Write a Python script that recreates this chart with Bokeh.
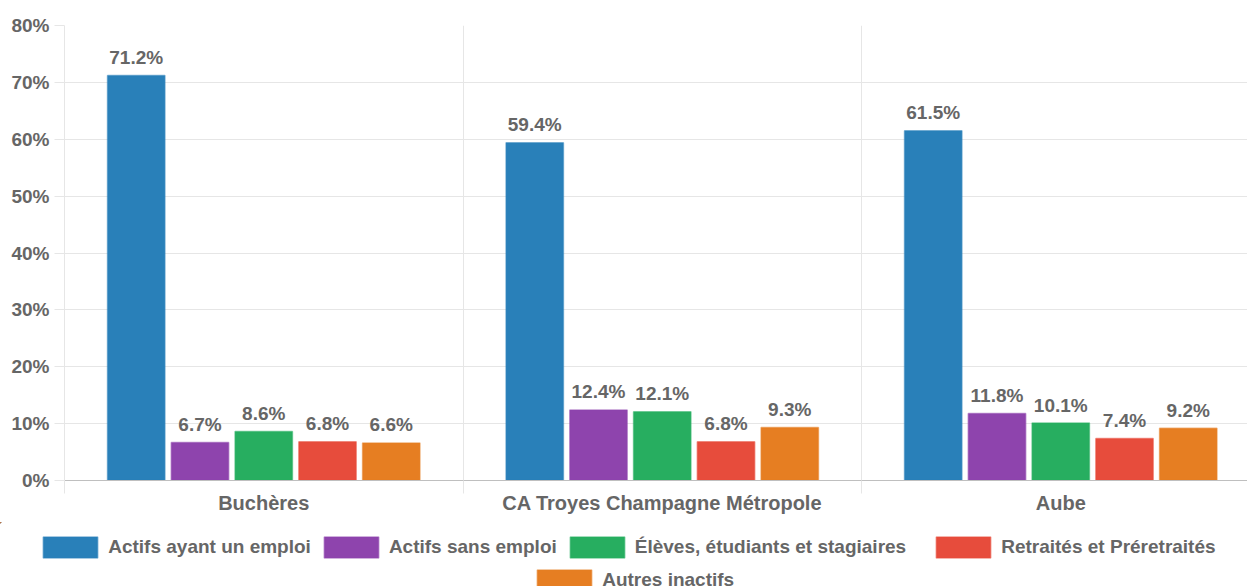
import numpy as np
from bokeh.plotting import figure
from bokeh.layouts import column
from bokeh.models import (Range1d, FixedTicker, CustomJSTickFormatter, PrintfTickFormatter,
                          Legend, LegendItem, ColumnDataSource)
from bokeh.core.properties import value
from bokeh.embed import file_html
from bokeh.resources import INLINE

# ---- data ----
categories = ["Buchères", "CA Troyes Champagne Métropole", "Aube"]
series_names = ["Actifs ayant un emploi", "Actifs sans emploi",
                "Élèves, étudiants et stagiaires", "Retraités et Préretraités",
                "Autres inactifs"]
actifs_emploi = [71.2, 59.4, 61.5]
actifs_sans_emploi = [6.7, 12.4, 11.8]
eleves_etudiants = [8.6, 12.1, 10.1]
retraites = [6.8, 6.8, 7.4]
autres_inactifs = [6.6, 9.3, 9.2]
y_ticks = [0, 10, 20, 30, 40, 50, 60, 70, 80]

series_values = [actifs_emploi, actifs_sans_emploi, eleves_etudiants, retraites, autres_inactifs]
colors = ["#2980b9", "#8e44ad", "#27ae60", "#e74c3c", "#e67e22"]

FONT = "Liberation Sans"
TXT = "#666666"
GRID = "#e6e6e6"

n_cat = len(categories)
slot = 0.8 / len(series_names)
bar_w = slot * 0.9

W = 1247
H1 = 522
p = figure(width=W, height=H1,
           x_range=Range1d(0, (W - 64) / 398.5), y_range=Range1d(0, 80),
           output_backend="svg", toolbar_location=None,
           min_border_left=64, min_border_right=0, min_border_top=25,
           min_border_bottom=H1 - 480)
p.outline_line_color = None
p.frame_align = False

sources = []
for i, (name, vals, col) in enumerate(zip(series_names, series_values, colors)):
    xs = np.arange(n_cat) + 0.5 + (i - 2) * slot
    src = ColumnDataSource(dict(x=xs, top=vals,
                                lbl=[f"{v:.1f}%" for v in vals]))
    sources.append(src)
    p.vbar(x="x", top="top", width=bar_w, bottom=0, source=src,
           fill_color=col, line_color=col, line_alpha=0.55, line_width=1.5)
    p.text(x="x", y="top", text="lbl", source=src, text_align="center",
           text_baseline="alphabetic", y_offset=-18,
           text_font=value(FONT), text_font_style="bold",
           text_font_size="19px", text_color=TXT)

# y axis
p.yaxis.ticker = FixedTicker(ticks=y_ticks)
p.yaxis.formatter = PrintfTickFormatter(format="%d%%")
p.yaxis.axis_line_color = GRID
p.yaxis.major_tick_line_color = GRID
p.yaxis.major_tick_out = 10
p.yaxis.major_tick_in = 0
p.yaxis.minor_tick_line_color = None
p.yaxis.minor_tick_out = 0
p.yaxis.major_label_standoff = 5
p.yaxis.major_label_text_font = FONT
p.yaxis.major_label_text_font_style = "bold"
p.yaxis.major_label_text_font_size = "19px"
p.yaxis.major_label_text_color = TXT

# x axis
p.xaxis.ticker = FixedTicker(ticks=[k + 0.5 for k in range(n_cat)],
                             minor_ticks=list(range(n_cat + 1)))
p.xaxis.formatter = CustomJSTickFormatter(
    args=dict(labels=categories),
    code="const i = Math.floor(tick); return (i >= 0 && i < labels.length) ? labels[i] : '';")
p.xaxis.axis_line_color = "#bfbfbf"
p.xaxis.major_tick_line_color = None
p.xaxis.major_tick_out = 0
p.xaxis.major_tick_in = 0
p.xaxis.minor_tick_line_color = GRID
p.xaxis.minor_tick_out = 13
p.xaxis.minor_tick_in = 0
p.xaxis.major_label_standoff = -2
p.xaxis.major_label_text_font = FONT
p.xaxis.major_label_text_font_style = "bold"
p.xaxis.major_label_text_font_size = "20px"
p.xaxis.major_label_text_color = TXT

# grids
p.ygrid.ticker = FixedTicker(ticks=y_ticks)
p.ygrid.grid_line_color = GRID
p.xgrid.ticker = FixedTicker(ticks=list(range(n_cat + 1)))
p.xgrid.grid_line_color = GRID

# ---- legend strip below the chart (same series sources; its ranges show no bars) ----
H2 = 586 - H1
lg = figure(width=W, height=H2, x_range=Range1d(10, 11), y_range=Range1d(-10, -9),
            x_axis_type=None, y_axis_type=None,
            output_backend="svg", toolbar_location=None,
            min_border_left=0, min_border_right=0, min_border_top=0, min_border_bottom=0)
lg.outline_line_color = None
lg.grid.visible = False
lg.frame_align = False

items = []
for name, col, src in zip(series_names, colors, sources):
    r = lg.vbar(x="x", top="top", width=bar_w, bottom=0, source=src,
                fill_color=col, line_color=col, line_alpha=0.55, line_width=1.5)
    items.append(LegendItem(label=name, renderers=[r]))

def make_legend(its, loc):
    return Legend(items=its, location=loc, orientation="horizontal",
                  glyph_width=68, glyph_height=26, label_height=20,
                  label_standoff=4, spacing=6, padding=0, margin=0,
                  border_line_color=None, background_fill_alpha=0,
                  label_text_font=FONT, label_text_font_style="bold",
                  label_text_font_size="19px", label_text_color=TXT)

leg1a = make_legend(items[:3], (36.2, 26))
leg1b = make_legend(items[3:4], (929.2, 26))
leg2 = make_legend(items[4:], (530.2, -7))
for leg in (leg1a, leg1b, leg2):
    lg.add_layout(leg, "center")

layout = column(p, lg, spacing=0)
open("out.html", "w").write(file_html(layout, INLINE))
